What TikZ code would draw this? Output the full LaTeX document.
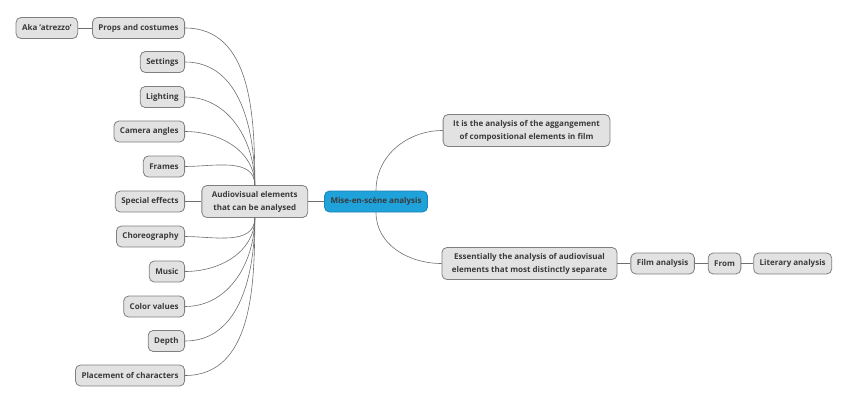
\documentclass[tikz,border=0pt]{standalone}
\usepackage{fontspec}
\setmainfont{Open Sans}
\usetikzlibrary{positioning}

\definecolor{boxfill}{HTML}{E2E2E2}
\definecolor{boxline}{HTML}{7F7F7F}
\definecolor{rootfill}{HTML}{1FA1DA}
\definecolor{rootline}{HTML}{1984B5}
\definecolor{txt}{HTML}{3A3A3A}
\definecolor{wire}{HTML}{6E6E6E}

\begin{document}
\begin{tikzpicture}[
        x=1pt, y=-1pt,
        node distance=13pt,
        topic/.style={draw=boxline, fill=boxfill, rounded corners=5pt, line width=0.8pt,
            minimum height=21pt, inner xsep=6pt, inner ysep=3pt, align=center,
            text=txt, font=\fontsize{8}{13}\selectfont\bfseries},
        twoline/.style={topic, inner xsep=10pt, inner ysep=5.5pt},
        leaf/.style={topic, anchor=east},
        central/.style={topic, draw=rootline, fill=rootfill},
        edge/.style={draw=wire, line width=0.6pt}
    ]
    \useasboundingbox (0,0) rectangle (848,404);

    % centre and right side
    \node[central] (root) at (376,201.5) {Mise-en-sc\`ene analysis};
    \node[twoline, left=16pt of root] (av) {Audiovisual elements\\that can be analysed};
    \node[twoline] (def) at (526.5,130.5) {It is the analysis of the aggangement\\of compositional elements in film};
    \node[twoline] (ess) at (529.5,263.5) {Essentially the analysis of audiovisual\\elements that most distinctly separate};
    \node[topic, right=of ess] (film) {Film analysis};
    \node[topic, right=of film] (from) {From};
    \node[topic, right=12pt of from] (lit) {Literary analysis};

    % left side
    \node[leaf] (props) at (185,28) {Props and costumes};
    \node[topic, left=14pt of props] (atrezzo) {Aka 'atrezzo'};
    \node[leaf] (settings) at (185,62) {Settings};
    \node[leaf] (lighting) at (185,97) {Lighting};
    \node[leaf] (camera) at (185,131.5) {Camera angles};
    \node[leaf] (frames) at (185,166.5) {Frames};
    \node[leaf] (effects) at (185,201.5) {Special effects};
    \node[leaf] (choreo) at (185,236.5) {Choreography};
    \node[leaf] (music) at (185,271.5) {Music};
    \node[leaf] (colors) at (185,306.5) {Color values};
    \node[leaf] (depth) at (185,341) {Depth};
    \node[leaf] (place) at (185,375.5) {Placement of characters};

    \draw[edge] (av) -- (root);
    \draw[edge] (root.north) to[out=90, in=180] (def.west);
    \draw[edge] (root.south) to[out=-90, in=180] (ess.west);
    \draw[edge] (ess) -- (film);
    \draw[edge] (film) -- (from);
    \draw[edge] (from) -- (lit);

    \draw[edge] (av.north) to[out=90, in=0] (props.east);
    \draw[edge] (props) -- (atrezzo);
    \draw[edge] (av.north) to[out=90, in=0] (settings.east);
    \draw[edge] (av.north) to[out=90, in=0] (lighting.east);
    \draw[edge] (av.north) to[out=90, in=0] (camera.east);
    \draw[edge] (av.north) to[out=90, in=0] (frames.east);
    \draw[edge] (av) -- (effects);
    \draw[edge] (av.south) to[out=-90, in=0] (choreo.east);
    \draw[edge] (av.south) to[out=-90, in=0] (music.east);
    \draw[edge] (av.south) to[out=-90, in=0] (colors.east);
    \draw[edge] (av.south) to[out=-90, in=0] (depth.east);
    \draw[edge] (av.south) to[out=-90, in=0] (place.east);

\end{tikzpicture}
\end{document}
